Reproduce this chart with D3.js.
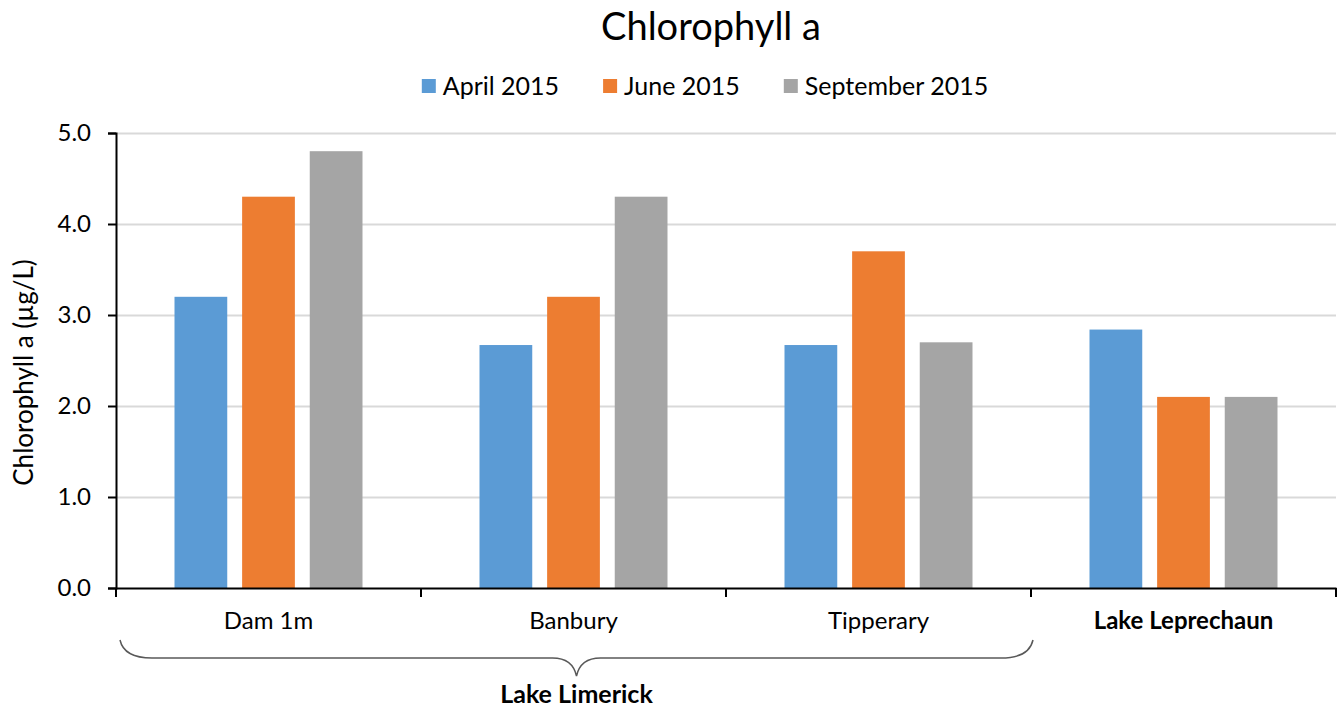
<!DOCTYPE html>
<html>
<head>
<meta charset="utf-8">
<script src="https://cdn.jsdelivr.net/npm/d3@7"></script>
<style>
  body { margin: 0; background: #fff; }
  svg { font-family: Lato, "Open Sans", sans-serif; }
</style>
</head>
<body>
<svg id="chart" width="1342" height="710"></svg>
<script>
const categories = ["Dam 1m", "Banbury", "Tipperary", "Lake Leprechaun"];
const series = ["April 2015", "June 2015", "September 2015"];
const april = [3.2, 2.67, 2.67, 2.84];
const june = [4.3, 3.2, 3.7, 2.1];
const september = [4.8, 4.3, 2.7, 2.1];
const yTicks = [0, 1, 2, 3, 4, 5];
const colors = ["#5b9bd5", "#ed7d31", "#a5a5a5"];
const limerickSites = ["Dam 1m", "Banbury", "Tipperary"];

const values = [april, june, september];
const rows = [];
categories.forEach((c, i) => {
  series.forEach((s, j) => {
    rows.push({ category: c, series: s, value: values[j][i] });
  });
});

const width = 1342, height = 710;
const margin = { top: 133, right: 6, bottom: 122, left: 116 };
const svg = d3.select("#chart");

const x0 = d3.scaleBand()
  .domain(categories)
  .range([margin.left, width - margin.right])
  .padding(0);

const x1 = d3.scaleBand()
  .domain(series)
  .range([58.5, x0.bandwidth() - 58.5])
  .paddingInner(0.22);

const y = d3.scaleLinear()
  .domain([0, 5])
  .range([height - margin.bottom, margin.top]);

const color = d3.scaleOrdinal().domain(series).range(colors);

// gridlines
svg.append("g")
  .attr("transform", `translate(${margin.left},0)`)
  .call(d3.axisLeft(y).tickValues(yTicks.slice(1)).tickSize(-(width - margin.left - margin.right)).tickFormat(""))
  .call(g => g.select(".domain").remove())
  .selectAll("line")
  .attr("stroke", "#d9d9d9")
  .attr("stroke-width", 2);

// bars
svg.append("g")
  .selectAll("rect")
  .data(rows)
  .enter()
  .append("rect")
  .attr("x", d => x0(d.category) + x1(d.series))
  .attr("y", d => y(d.value))
  .attr("width", x1.bandwidth())
  .attr("height", d => y(0) - y(d.value))
  .attr("fill", d => color(d.series));

// y axis
const yAxis = svg.append("g")
  .attr("transform", `translate(${margin.left},0)`)
  .call(d3.axisLeft(y).tickValues(yTicks).tickFormat(d3.format(".1f")).tickSize(8).tickPadding(17));
yAxis.select(".domain").attr("stroke", "#000").attr("stroke-width", 2);
yAxis.selectAll("line").attr("stroke", "#000").attr("stroke-width", 2);
yAxis.selectAll("text").attr("font-size", 24).attr("fill", "#000").attr("font-family", "Lato, sans-serif");

// x axis (labels centred in band, ticks on band boundaries)
const xAxis = svg.append("g")
  .attr("transform", `translate(0,${y(0)})`)
  .call(d3.axisBottom(x0).tickSize(0).tickPadding(24));
xAxis.select(".domain").attr("stroke", "#000").attr("stroke-width", 2);
xAxis.selectAll("text")
  .attr("font-size", 24)
  .attr("fill", "#000")
  .attr("font-family", "Lato, sans-serif")
  .attr("font-weight", d => limerickSites.includes(d) ? "normal" : "bold");

const bounds = categories.map(c => x0(c)).concat([x0.range()[1]]);
xAxis.selectAll(".bound")
  .data(bounds)
  .enter()
  .append("line")
  .attr("class", "bound")
  .attr("x1", d => d).attr("x2", d => d)
  .attr("y1", 0).attr("y2", 9)
  .attr("stroke", "#000")
  .attr("stroke-width", 2);

// brace under Lake Limerick sites
const bx1 = x0(limerickSites[0]) + 4;
const bx2 = x0(limerickSites[limerickSites.length - 1]) + x0.bandwidth() + 2;
const bmid = (x0(limerickSites[0]) + x0(limerickSites[limerickSites.length - 1]) + x0.bandwidth()) / 2 + 3;
const bTop = 640, bLine = 658, bTip = 676;
const p = d3.path();
p.moveTo(bx1, bTop);
p.quadraticCurveTo(bx1 + 4, bLine, bx1 + 32, bLine);
p.lineTo(bmid - 24, bLine);
p.quadraticCurveTo(bmid - 4, bLine, bmid, bTip);
p.quadraticCurveTo(bmid + 4, bLine, bmid + 24, bLine);
p.lineTo(bx2 - 32, bLine);
p.quadraticCurveTo(bx2 - 4, bLine, bx2, bTop);
svg.append("path")
  .attr("d", p.toString())
  .attr("fill", "none")
  .attr("stroke", "#595959")
  .attr("stroke-width", 1.5);

svg.append("text")
  .attr("x", bmid)
  .attr("y", 703)
  .attr("text-anchor", "middle")
  .attr("font-size", 25)
  .attr("font-weight", "bold")
  .text("Lake Limerick");

// y label
svg.append("text")
  .attr("transform", `translate(33,${(margin.top + y(0)) / 2 + 12}) rotate(-90)`)
  .attr("text-anchor", "middle")
  .attr("font-size", 26)
  .text("Chlorophyll a (µg/L)");

// title
svg.append("text")
  .attr("x", 711)
  .attr("y", 40)
  .attr("text-anchor", "middle")
  .attr("font-size", 38)
  .text("Chlorophyll a");

// legend
const legendGap = 44;
const legend = svg.append("g");
const items = legend.selectAll("g")
  .data(series)
  .enter()
  .append("g");
items.append("rect")
  .attr("width", 14).attr("height", 14)
  .attr("y", 79)
  .attr("fill", d => color(d));
items.append("text")
  .attr("x", 21)
  .attr("y", 95)
  .attr("font-size", 25)
  .text(d => d);
let lx = 0;
items.each(function () {
  d3.select(this).attr("transform", `translate(${lx},0)`);
  lx += 21 + d3.select(this).select("text").node().getComputedTextLength() + legendGap;
});
const legendWidth = lx - legendGap;
legend.attr("transform", `translate(${705 - legendWidth / 2},0)`);
</script>
</body>
</html>
